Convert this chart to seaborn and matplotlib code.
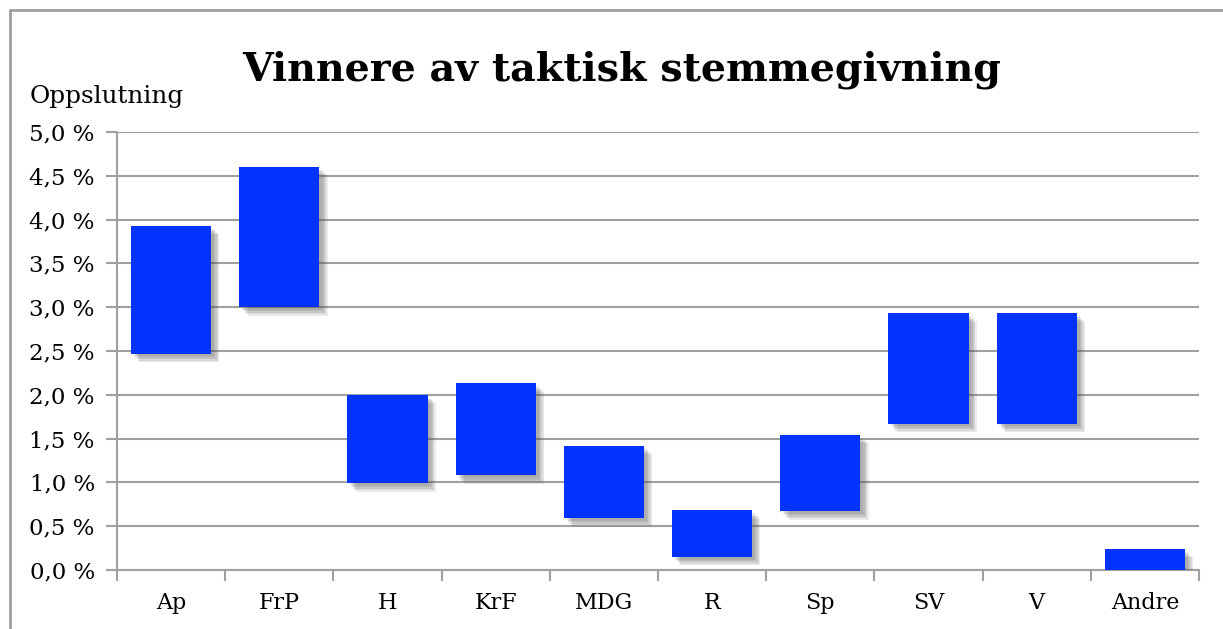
import seaborn as sns
import pandas as pd
import matplotlib
matplotlib.use("Agg")
import matplotlib.pyplot as plt
import matplotlib.patheffects as pe
from matplotlib.ticker import FuncFormatter, FixedLocator
from matplotlib.lines import Line2D

# data (percent)
parties = ["Ap", "FrP", "H", "KrF", "MDG", "R", "Sp", "SV", "V", "Andre"]
low = [2.47, 3.00, 0.99, 1.08, 0.59, 0.15, 0.67, 1.67, 1.67, 0.00]
high = [3.93, 4.60, 2.00, 2.13, 1.42, 0.68, 1.54, 2.93, 2.93, 0.24]
yticks = [0.0, 0.5, 1.0, 1.5, 2.0, 2.5, 3.0, 3.5, 4.0, 4.5, 5.0]

df = pd.DataFrame({"parti": parties, "low": low, "high": high})
df["span"] = df["high"] - df["low"]

sns.set_style("white")
plt.rcParams["font.family"] = ["DejaVu Serif"]
plt.rcParams["text.color"] = "black"
plt.rcParams["xtick.labelcolor"] = "black"
plt.rcParams["ytick.labelcolor"] = "black"

grid_col = "#a0a0a0"
fig = plt.figure(figsize=(12.23, 6.29), dpi=100)
ax = fig.add_axes([117 / 1223, 1 - 570 / 629, (1199 - 117) / 1223, (570 - 132) / 629])

sns.barplot(data=df, x="parti", y="span", bottom=df["low"].values, color="#0433FF",
            saturation=1, width=0.74, errorbar=None, ax=ax, zorder=3,
            linewidth=0)
# soft drop shadow, layered
shadow = [pe.SimplePatchShadow(offset=(d, -d), shadow_rgbFace="#555555", alpha=0.12)
          for d in (6, 5, 4, 3, 2)]
for p in ax.patches:
    p.set_path_effects(shadow + [pe.Normal()])

ax.set_ylim(0, 5)
ax.set_xlim(-0.5, len(parties) - 0.5)
ax.yaxis.set_major_locator(FixedLocator(yticks))
ax.yaxis.set_major_formatter(FuncFormatter(lambda v, pos: f"{v:.1f} %".replace(".", ",")))
ax.set_xticks(range(len(parties)))
ax.set_xticks([i - 0.5 for i in range(len(parties) + 1)], minor=True)
ax.set_xticklabels(parties)
ax.grid(axis="y", color=grid_col, linewidth=1.5, zorder=0)
ax.set_axisbelow(True)

ax.tick_params(axis="y", which="major", left=True, length=8, width=1.5, color=grid_col,
               labelsize=16.5, pad=8, labelcolor="black")
ax.tick_params(axis="x", which="major", bottom=False, length=0, labelsize=16, pad=16,
               labelcolor="black")
ax.tick_params(axis="x", which="minor", bottom=True, length=8, width=1.5, color=grid_col)

for s in ["top", "right"]:
    ax.spines[s].set_visible(False)
for s in ["left", "bottom"]:
    ax.spines[s].set_color(grid_col)
    ax.spines[s].set_linewidth(1.5)

ax.set_xlabel("")
ax.set_ylabel("")
fig.text(30 / 1223, 1 - 97 / 629, "Oppslutning", fontsize=17.8, color="black",
         ha="left", va="center")
fig.text(622 / 1223, 1 - 70 / 629, "Vinnere av taktisk stemmegivning", fontsize=28.5,
         fontweight="bold", color="black", ha="center", va="center")

# outer frame (left and top)
fig.add_artist(Line2D([10 / 1223, 10 / 1223], [0, 1 - 10 / 629], color=grid_col, lw=2,
                      transform=fig.transFigure))
fig.add_artist(Line2D([10 / 1223, 1], [1 - 10 / 629, 1 - 10 / 629], color=grid_col, lw=2,
                      transform=fig.transFigure))

fig.savefig("out.png", dpi=100)
